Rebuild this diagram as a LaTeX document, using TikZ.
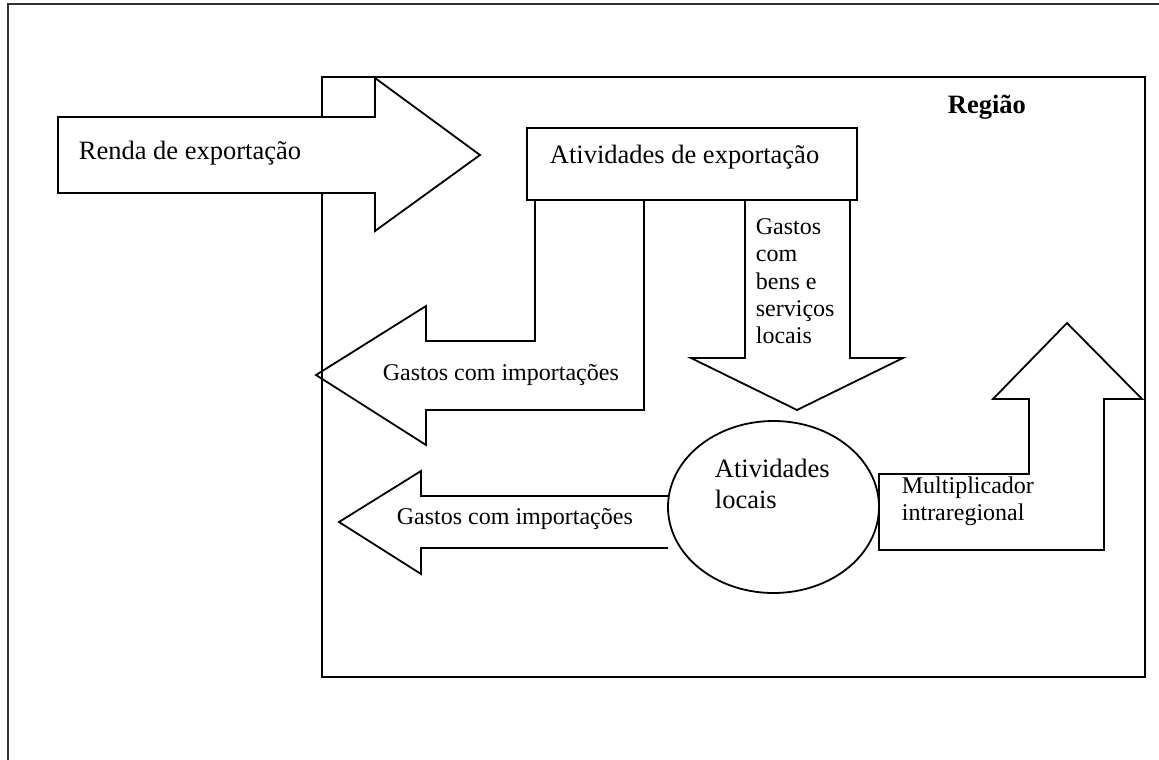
\documentclass[tikz,border=0pt]{standalone}
\usepackage{fontspec}
\setmainfont{Liberation Serif}
\usetikzlibrary{shapes.geometric}
\begin{document}
\begin{tikzpicture}[x=1pt,y=-1pt,line width=1.8pt,line join=miter,
  bigtext/.style={font=\fontsize{26.5}{30}\selectfont,inner sep=0pt,anchor=base west},
  boldtext/.style={font=\fontsize{26.5}{30}\selectfont\bfseries,inner sep=0pt,anchor=base west},
  smalltext/.style={font=\fontsize{24}{27}\selectfont,inner sep=0pt,anchor=base west},
  blockarrow/.style={draw=black,line width=1.8pt}]
\useasboundingbox (0,0) rectangle (1159,760);
% outer frame
\draw[line width=1.3pt,black!80] (8,760) -- (8,4) -- (1159,4);
% region box
\node[draw,line width=2pt,minimum width=823pt,minimum height=600pt,inner sep=0pt] (regiao) at (733.5,377) {};
\node[boldtext] (regiaolbl) at (947,113) {Região};
% Renda de exportacao arrow
\draw[blockarrow,fill=white] (58,117) -- (375,117) -- (375,78) -- (480,155) -- (375,231) -- (375,193) -- (58,193) -- cycle;
\node[bigtext] (renda) at (78,159) {Renda de exportação};
% export activities box
\node[draw,minimum width=330pt,minimum height=72pt,inner sep=0pt] (exp) at (692,164) {};
\node[bigtext] (explbl) at (549,163) {Atividades de exportação};
% import arrow 1
\draw[blockarrow] (535,200) -- (535,341) -- (426,341) -- (426,306) -- (316,375) -- (426,445) -- (426,410) -- (644,410) -- (644,200);
\node[smalltext] (imp1) at (382,380) {Gastos com importações};
% local goods arrow
\draw[blockarrow] (745,200) -- (745,358) -- (691,358) -- (797,410) -- (903,358) -- (850,358) -- (850,200);
\node[smalltext] (g1) at (755,234) {Gastos};
\node[smalltext] (g2) at (755,261) {com};
\node[smalltext] (g3) at (755,289) {bens e};
\node[smalltext] (g4) at (755,316) {serviços};
\node[smalltext] (g5) at (755,343) {locais};
% local activities ellipse
\node[draw,ellipse,minimum width=211pt,minimum height=172pt,inner sep=0pt] (loc) at (773.5,507) {};
\node[bigtext] (loc1) at (714,477) {Atividades};
\node[bigtext] (loc2) at (714,508) {locais};
% import arrow 2
\draw[blockarrow] (668,496) -- (421,496) -- (421,471) -- (339,522) -- (421,574) -- (421,548) -- (668,548);
\node[smalltext] (imp2) at (396,524) {Gastos com importações};
% multiplier arrow
\draw[blockarrow] (879,550) -- (879,474) -- (1029,474) -- (1029,399) -- (993,399) -- (1067,323) -- (1142,399) -- (1104,399) -- (1104,550) -- cycle;
\node[smalltext] (mul1) at (901,493) {Multiplicador};
\node[smalltext] (mul2) at (901,520) {intraregional};
\end{tikzpicture}
\end{document}
